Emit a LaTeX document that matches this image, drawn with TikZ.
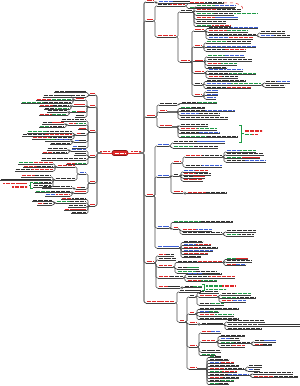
\documentclass[tikz,border=0pt]{standalone}
\usepackage{tikz}
\usetikzlibrary{calc}

\definecolor{cr}{HTML}{E02828}
\definecolor{ck}{HTML}{303030}
\definecolor{cg}{HTML}{1E9A46}
\definecolor{cb}{HTML}{3C5FD8}

% figli verso destra: [stile]{x padre}{y padre}{x graffa}{y/lunghezza/colore1/colore2,...}
\newcommand{\rkids}[5][conn]{%
  \foreach \yy/\ww/\qa/\qb in {#5}{%
    \draw[#1] (#2,#3) -- (#4,#3) |- ({#4+2},\yy);
    \draw[uline] ({#4+2},\yy) -- ({#4+2+\ww},\yy);
    \draw[tbar,color=c\qa] ({#4+2.5},{\yy-1.4}) -- ({#4+2.5+0.45*\ww},{\yy-1.4});
    \draw[tbar,color=c\qb] ({#4+2.5+0.45*\ww},{\yy-1.4}) -- ({#4+1.5+\ww},{\yy-1.4});
  }}
% figli verso sinistra
\newcommand{\lkids}[5][conn]{%
  \foreach \yy/\ww/\qa/\qb in {#5}{%
    \draw[#1] (#2,#3) -- (#4,#3) |- ({#4-2},\yy);
    \draw[uline] ({#4-2},\yy) -- ({#4-2-\ww},\yy);
    \draw[tbar,color=c\qa] ({#4-1.5-\ww},{\yy-1.4}) -- ({#4-2-0.55*\ww},{\yy-1.4});
    \draw[tbar,color=c\qb] ({#4-2-0.55*\ww},{\yy-1.4}) -- ({#4-2.5},{\yy-1.4});
  }}

\begin{document}
\begin{tikzpicture}[x=1pt,y=-1pt,
    conn/.style={draw=black!70,line width=0.6pt,rounded corners=1.2pt},
    spine/.style={draw=black!55,line width=1.1pt,rounded corners=2pt},
    uline/.style={draw=black!75,line width=0.6pt},
    tbar/.style={line width=1.15pt,dash pattern=on 2.2pt off 0.3pt},
    rlink/.style={draw=cr,line width=0.7pt},
    sumg/.style={draw=cg,line width=0.7pt},
    reldash/.style={draw=cr,dashed,line width=0.5pt},
    root/.style={draw=cr!60!black,fill=cr,rounded corners=2pt,minimum width=16pt,
                 minimum height=5pt,inner sep=0pt,line width=0.6pt}]
    \useasboundingbox (0,0) rectangle (300,386);

    % radice
    \node[root] (root) at (120,153) {};
    \draw[tbar,white] (114.5,153.4) -- (125.5,153.4);
    \draw[rlink] (root.east) -- (143,153);
    \draw[rlink] (root.west) -- (98,153);
    \draw[tbar,color=cr] (131,151.6) -- (141,151.6);
    \draw[tbar,color=cr] (100,151.6) -- (110,151.6);

    % ramo destro
    \rkids[spine]{143}{153}{144}{2/8/r/r, 21/7/r/r, 117/9/r/r, 196/7/r/r, 263/8/r/r, 303/29/r/r}

    % primo gruppo
    \rkids{154}{2}{156}{3/32/b/k}
    \rkids{153}{21}{155}{6/28/k/r, 37/19/r/r}
    \rkids{185}{6}{187}{3.5/35/r/k, 8.5/46/g/b}
    \draw[reldash] (224,3) .. controls (238,2) and (244,5) .. (243,11.5);
    \draw[tbar,color=cg] (234,13.2) -- (257,13.2);
    \rkids{176}{37}{178}{12/12/k/k, 62/10/r/r}
    \rkids{192}{12}{194}{7/40/g/b, 11/45/r/k, 15/38/g/k, 19/42/r/b, 23/30/k/k, 26.5/35/g/r}
    \rkids{190}{62}{192}{31/10/r/r, 47/8/r/r, 61.5/9/r/r, 73/10/r/r, 85/8/k/k, 96/8/r/r}
    \rkids{204}{31}{206}{28.5/50/k/b, 32/40/r/g, 35.5/48/k/k, 39/45/b/r}
    \rkids{256}{35.5}{258}{33/25/k/k, 37/30/b/k}
    \rkids{202}{47}{204}{43/45/g/k, 47.5/50/b/b, 51/40/k/r}
    \rkids{203}{61.5}{205}{57/38/g/b, 61/45/k/k, 65/30/r/g, 68.5/20/k/k}
    \rkids{204}{73}{206}{71/35/b/b, 74.5/48/k/g, 78/30/r/k}
    \rkids{202}{85}{204}{81.5/40/k/k, 85/55/b/g, 88.5/45/k/r}
    \rkids{261}{85}{263}{83/25/k/b, 87/20/k/k}
    \rkids{202}{96}{204}{92/12/b/b, 95.5/12/b/b, 99/10/b/b}

    % secondo gruppo
    \rkids{155}{117}{157}{105/18/k/k, 112/8/r/r, 127/13/r/r}
    \rkids{177}{105}{179}{103.5/36/k/g}
    \rkids{167}{112}{178}{108.5/25/g/k, 111.5/55/k/b, 115/40/b/k, 119/48/k/k}
    \rkids{172}{127}{178}{126/28/k/k, 130/37/r/g, 133.5/40/k/b, 137.5/58/g/k}
    \draw[sumg] (239,125) -- (241.5,125) -- (241.5,142) -- (239,142);
    \draw[sumg] (241.5,133.5) -- (243.5,133.5);
    \draw[tbar,color=cr] (244.5,131) -- (262,131);
    \draw[tbar,color=cg] (244.5,134.6) -- (252,134.6);
    \draw[tbar,color=cr] (252,134.6) -- (258,134.6);

    % gruppo blu
    \rkids{153}{196}{155}{146/12/b/b, 177/12/b/b, 228/12/b/b, 248/22/b/b}
    \rkids{169}{146}{171}{143/52/k/b, 148/45/g/k}
    \rkids{169}{177}{171}{163/8/r/r, 176/6/k/k, 193/10/r/r}
    \rkids{181}{163}{183}{157/37/r/k, 167/37/k/b}
    \rkids{222}{157}{224}{152/30/b/g, 155/38/k/k, 158.5/34/g/r, 162/40/k/b}
    \rkids{179}{176}{181}{172/25/b/r, 175/28/r/k, 178/22/k/r, 181/20/r/r}
    \rkids{183}{193}{185}{193.5/40/r/k}
    \rkids{169}{228}{171}{222.5/60/g/k, 229/5/r/r}
    \rkids{178}{229}{180}{231/30/r/b, 234/40/k/k}
    \rkids{222}{234}{224}{232/30/k/k, 236/28/g/k}
    \rkids{179}{248}{181}{242.5/20/k/k, 245.5/28/b/r, 248.5/35/r/k, 251.5/30/b/b, 254.5/25/r/r, 257.5/18/k/k}

    % quinto gruppo
    \rkids{154}{263}{156}{256/16/r/k, 260/18/k/k, 267/15/r/r, 278/25/r/k, 288/22/r/k}
    \rkids{173}{267}{175}{262.5/45/k/r, 269/22/k/g, 273/40/g/k}
    \rkids{222}{262.5}{224}{259.5/22/g/r, 262/26/k/k, 265.5/20/r/b}
    \rkids{183}{278}{185}{274.5/35/b/k, 278/48/k/r, 281.5/30/r/g}
    \rkids{180}{288}{182}{287.5/18/k/g}
    \draw[sumg] (202,284.5) -- (204,284.5) -- (204,290.5) -- (202,290.5);
    \draw[tbar,color=cg] (206,286) -- (222,286);
    \draw[tbar,color=cr] (222,286) -- (235,286);
    \draw[tbar,color=cg] (206,289.5) -- (226,289.5);

    % ultimo gruppo
    \rkids{175}{303}{177}{292/22/k/k, 322/6/r/r}
    \rkids{185}{322}{187}{297/6/k/k, 314/6/r/r, 324/8/r/r, 347/8/r/r, 369/8/r/r}
    \rkids{195}{297}{197}{293/20/k/k, 297/18/r/r, 305/25/k/g}
    \rkids{217}{297}{219}{295/30/k/g, 298.5/35/g/k, 302/25/r/b}
    \rkids{195}{314}{197}{309.5/40/k/k, 312.5/20/b/g, 316/35/r/g, 319.5/40/k/k}
    \rkids{197}{324}{199}{324.5/22/k/k}
    \rkids{223}{324.5}{225}{322/38/k/k, 326/73/k/k, 329.5/35/k/k}
    \rkids{197}{347}{199}{333/20/r/b, 342/15/r/r, 352/20/k/k, 355.5/15/g/g}
    \rkids{216}{342}{218}{336.5/25/k/k, 340/20/b/k, 343.5/30/g/k, 347/25/k/r}
    \rkids{250}{343.5}{252}{342/22/k/b, 345.5/18/r/k}
    \rkids{197}{369}{207}{357.5/12/g/k, 360.5/20/k/k, 363.5/25/b/r, 366.5/30/k/k, 369.5/35/r/k, 372.5/28/g/r, 375.5/40/k/b, 378.5/30/r/k, 381.5/25/k/g, 384.5/20/g/k}
    \rkids{244}{369.5}{246}{367/14/k/k, 371/12/b/k}
    \rkids{249}{375.5}{251}{374/40/k/k, 377.5/45/r/k}

    % ramo sinistro
    \lkids[spine]{98}{153}{97}{95/6/r/r, 107/6/r/r, 132/6/r/r, 157/6/r/r, 183/6/r/r, 206/6/r/r}
    \lkids{89}{95}{88}{92.5/32/k/k, 97/28/k/k}
    \lkids{89}{107}{87}{100/10/r/r, 106/12/r/r, 112.5/14/g/r, 117/10/k/k}
    \lkids{75}{100}{73}{97/28/k/k, 100.5/35/r/g, 103.5/50/g/k}
    \lkids{73}{106}{71}{106.5/30/r/k, 109.5/25/k/g}
    \lkids{71}{112.5}{69}{112/20/k/k, 115.5/28/r/g}
    \lkids{89}{132}{88}{121/25/k/k, 125/18/r/g, 129.5/8/r/r, 135/10/r/k, 142/12/b/k, 148/14/b/k}
    \lkids{68}{125}{66}{124/22/k/r, 127.5/25/g/k}
    \lkids{76}{135}{74}{133/45/g/k, 136/50/k/r, 139/40/r/k}
    \lkids{74}{142}{72}{141/25/g/b, 144.5/20/k/k}
    \lkids{89}{157}{88}{151/15/b/b, 155/12/k/k, 160/45/k/k, 164.5/20/r/g}
    \lkids{71}{151}{69}{150/20/k/k, 153.5/25/r/k}
    \lkids{89}{183}{88}{174/7/b/b, 189/10/r/k, 193/12/r/r}
    \lkids{79}{174}{77}{167/18/r/r, 180/20/k/k}
    \lkids{57}{167}{55}{164/35/g/r, 167.5/30/r/k, 171/38/k/r}
    \lkids{55}{180}{53}{177/30/r/k, 180.5/51/k/k, 183.5/18/g/k, 187/18/k/k}
    \draw[sumg] (32.5,182) -- (30.5,182) -- (30.5,188.5) -- (32.5,188.5);
    \draw[sumg] (30.5,185.2) -- (28.5,185.2);
    \draw[tbar,color=cr] (3,183.5) -- (27,183.5);
    \draw[tbar,color=cr] (12,187) -- (27,187);
    \lkids{76}{189}{74}{188/30/k/k}
    \lkids{74}{193}{72}{192.5/35/g/k, 196/25/b/r}
    \lkids{89}{206}{88}{199.5/25/r/k, 203/30/g/k, 207/18/k/k, 210.5/22/r/r, 213.5/15/k/k}
    \lkids{56}{203}{54}{201.5/20/k/k, 205/15/r/k}
\end{tikzpicture}
\end{document}
